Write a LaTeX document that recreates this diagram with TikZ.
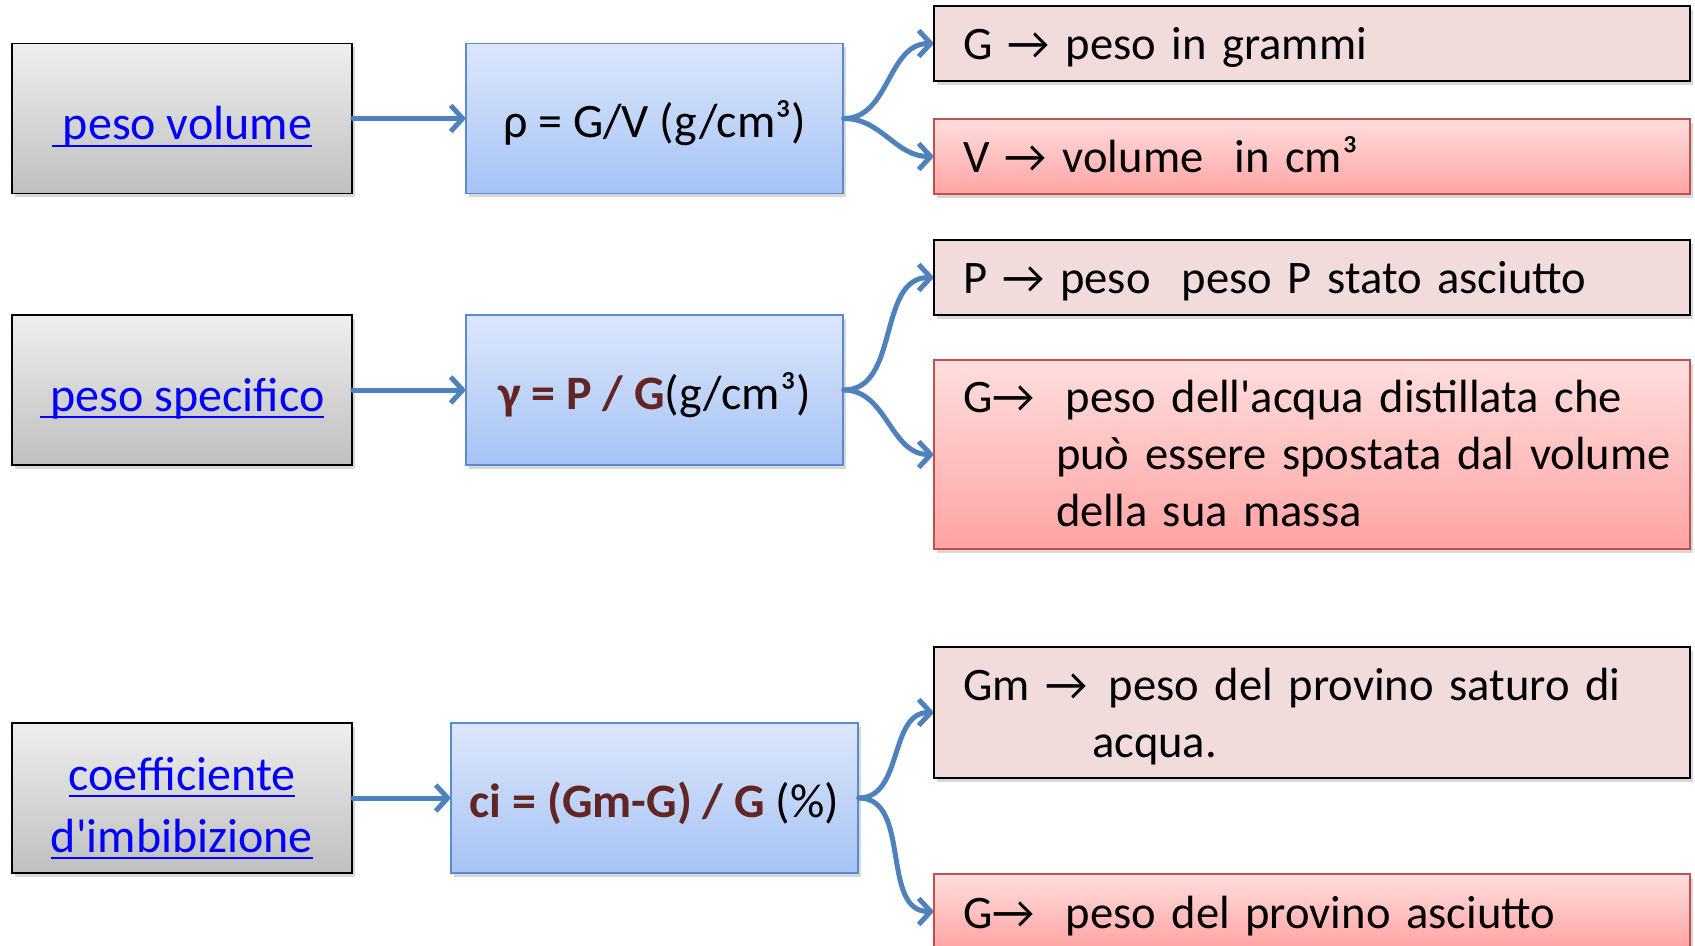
\documentclass[tikz,border=0pt]{standalone}
\usepackage{fontspec}
\setmainfont{Carlito}
\usepackage{tikz}
\usetikzlibrary{arrows.meta,shadows}
\definecolor{linkblue}{HTML}{0000FF}
\definecolor{arrowblue}{HTML}{4F81BD}
\definecolor{boxblue}{HTML}{5A8AD0}
\definecolor{bluetop}{HTML}{DDE7FB}
\definecolor{bluebot}{HTML}{A5C3F5}
\definecolor{redline}{HTML}{C0504D}
\definecolor{redtop}{HTML}{FFDEDE}
\definecolor{redbot}{HTML}{FFA3A3}
\definecolor{notepink}{HTML}{F2DCDB}
\definecolor{formred}{HTML}{632523}
\newcommand{\formula}[1]{\textbf{\color{formred}#1}}
\newcommand{\linktext}[1]{\setbox0\hbox{#1}\rlap{\rule[-3.4pt]{\wd0}{1pt}}\box0}
\tikzset{%
  shade/.style={drop shadow={shadow xshift=1.5pt,shadow yshift=-2pt,opacity=0.3}},%
  namebox/.style={draw=black,thick,top color=gray!13,bottom color=gray!50,shade,%
    minimum width=170pt,minimum height=75pt,align=center,text=linkblue,%
    text height=27.5pt,text depth=6pt},%
  formbox/.style={draw=boxblue,thick,top color=bluetop,bottom color=bluebot,shade,%
    minimum height=75pt,align=center,text height=25pt,text depth=6pt},%
  notebox/.style={draw=black,thick,fill=notepink,shade,minimum width=378pt,minimum height=37.5pt,%
    text width=349pt,inner xsep=14.5pt,align=left,font=\fontsize{23.3}{28.5}\selectfont,%
    text height=22.5pt,text depth=6pt},%
  redbox/.style={notebox,draw=redline,top color=redtop,bottom color=redbot},%
  link/.style={draw=arrowblue,line width=2.5pt,line cap=round,%
    -{Straight Barb[length=6pt,width=13pt,line join=round]}}%
}
\begin{document}
\begin{tikzpicture}[x=1pt,y=-1pt,font=\fontsize{24}{29}\selectfont]%
  \clip (0,0) rectangle (847.5,473);%
  \fill[white] (0,0) rectangle (847.5,473);%
  % peso volume
  \node[namebox] (vol) at (91,59.25) {\linktext{\ peso volume}};%
  \node[formbox,minimum width=188.5pt] (rho) at (327.25,59.25) {ρ = G/V (g/cm³)};%
  \node[notebox] (grammi) at (656,21.75) {G → peso in grammi};%
  \node[redbox] (volcm) at (656,78.25) {V → volume\ \ in cm³};%
  % peso specifico
  \node[namebox] (spec) at (91,195) {\linktext{\ peso specifico}};%
  \node[formbox,minimum width=188.5pt] (gamma) at (327.25,195) {\formula{γ = P / G}(g/cm³)};%
  \node[notebox] (secco) at (656,138.75) {P → peso\ \ peso P stato asciutto};%
  \node[redbox,minimum height=94.5pt,text depth=65pt] (acqua) at (656,227.25) {%
    \mbox{G→\ \ peso dell\textquotesingle acqua distillata che}\\%
    \hspace*{46.5pt}\mbox{può essere spostata dal volume}\\\hspace*{46.5pt}della sua massa};%
  % coefficiente d'imbibizione
  \node[namebox,font=\fontsize{24}{31}\selectfont,text height=60.5pt,text depth=6pt] (imb) at (91,399)%
    {\linktext{coefficiente}\\\linktext{d\textquotesingle imbibizione}};%
  \node[formbox,minimum width=203.5pt] (ci) at (327.25,399) {\formula{ci = (Gm-G) / G} (\%)};%
  \node[notebox,minimum height=65.5pt,text depth=35pt] (saturo) at (656,356.25) {%
    \mbox{Gm →\ \hspace{3pt}peso del provino saturo di}\\\hspace*{64.5pt}acqua.};%
  \node[redbox] (provino) at (656,455.75) {G→\ \ peso del provino asciutto};%
  % connectors
  \draw[link] (vol) -- (rho);%
  \draw[link] (rho.east) to[out=0,in=180] (grammi.west);%
  \draw[link] (rho.east) to[out=0,in=180] (volcm.west);%
  \draw[link] (spec) -- (gamma);%
  \draw[link] (gamma.east) to[out=0,in=180] (secco.west);%
  \draw[link] (gamma.east) to[out=0,in=180] (acqua.west);%
  \draw[link] (imb) -- (ci);%
  \draw[link] (ci.east) to[out=0,in=180] (saturo.west);%
  \draw[link] (ci.east) to[out=0,in=180] (provino.west);%
\end{tikzpicture}
\end{document}
